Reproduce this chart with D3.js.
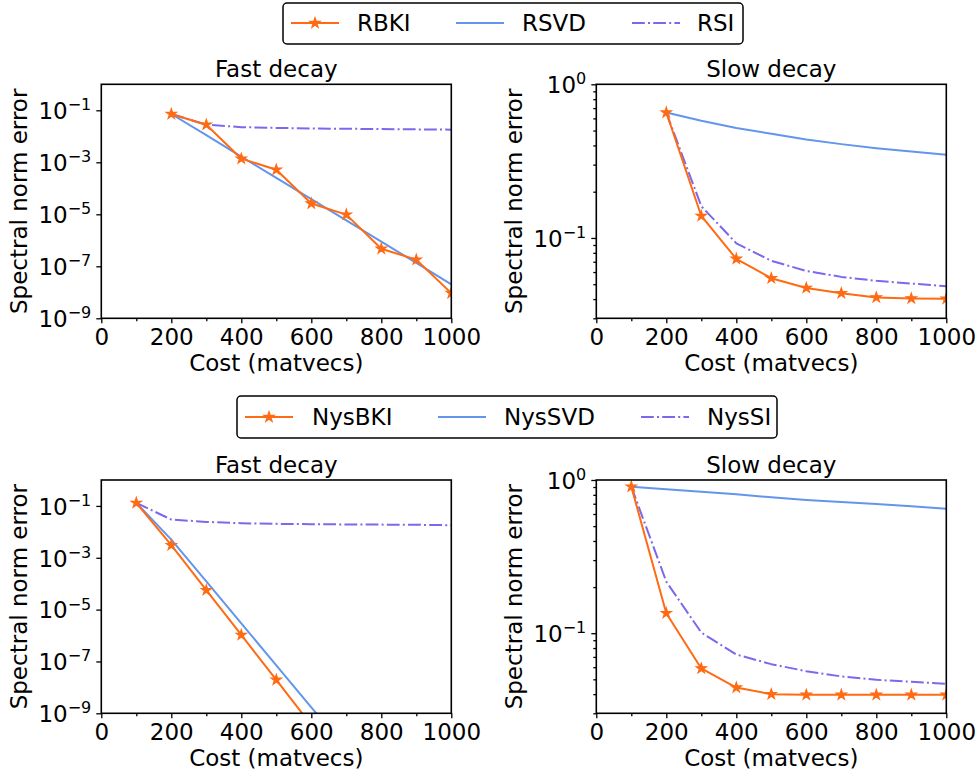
<!DOCTYPE html>
<html>
<head>
<meta charset="utf-8">
<script src="https://cdn.jsdelivr.net/npm/d3@7"></script>
<style>
  html, body { margin: 0; padding: 0; background: #fff; }
  svg { display: block; }
  text { font-family: "DejaVu Sans", sans-serif; fill: #000; }
</style>
</head>
<body>
<svg id="chart" width="977" height="776"></svg>
<script>
// ---------------- DATA ----------------
const costTop = [200, 300, 400, 500, 600, 700, 800, 900, 1000];
const rbkiFast = [0.072, 0.028, 0.00138, 0.00052, 2.6e-5, 9.7e-6, 4.7e-7, 1.8e-7, 9.3e-9];
const rsvdFast = [0.072, 0.011, 0.00166, 0.00025, 3.8e-5, 5.8e-6, 8.9e-7, 1.35e-7, 2.0e-8];
const rsiFast  = [0.072, 0.028, 0.0225, 0.021, 0.020, 0.0195, 0.019, 0.0185, 0.018];
const rbkiSlow = [0.655, 0.139, 0.0731, 0.0547, 0.0473, 0.0437, 0.0410, 0.0404, 0.0402];
const rsvdSlow = [0.655, 0.580, 0.520, 0.476, 0.437, 0.408, 0.384, 0.365, 0.348];
const rsiSlow  = [0.655, 0.161, 0.0923, 0.0710, 0.0610, 0.0558, 0.0526, 0.0505, 0.0485];

const costBottom = [100, 200, 300, 400, 500, 600, 700, 800, 900, 1000];
const nysbkiFast = [0.131, 0.00305, 5.6e-5, 1.05e-6, 1.95e-8, 3.5e-10, null, null, null, null];
const nyssvdFast = [0.131, 0.0050, 1.22e-4, 2.95e-6, 7.1e-8, 1.7e-9, 4.2e-11, null, null, null];
const nyssiFast  = [0.131, 0.0298, 0.0242, 0.0215, 0.0203, 0.0197, 0.0193, 0.0190, 0.0187, 0.018];
const nysbkiSlow = [0.905, 0.135, 0.0589, 0.0442, 0.0400, 0.0396, 0.0396, 0.0396, 0.0396, 0.0396];
const nyssvdSlow = [0.905, 0.869, 0.838, 0.806, 0.771, 0.741, 0.719, 0.697, 0.673, 0.650];
const nyssiSlow  = [0.905, 0.217, 0.101, 0.0726, 0.0628, 0.0565, 0.0522, 0.0496, 0.0482, 0.0467];

const topLegendLabels = ["RBKI", "RSVD", "RSI"];
const bottomLegendLabels = ["NysBKI", "NysSVD", "NysSI"];
const xTicks = [0, 200, 400, 600, 800, 1000];
const xMinorTicks = [100, 300, 500, 700, 900];
const fastTicks = [1e-1, 1e-3, 1e-5, 1e-7, 1e-9];
const slowTicks = [1e0, 1e-1];
const slowMinorTicks = [0.03, 0.04, 0.05, 0.06, 0.07, 0.08, 0.09, 0.2, 0.3, 0.4, 0.5, 0.6, 0.7, 0.8, 0.9];
const fastDomain = [1e-9, 1];
const slowDomain = [0.03, 1];

// ---------------- STYLE ----------------
const COLORS = ["#ff6a13", "#6495ed", "#7b68ee"];
const FONT = 23;
const svg = d3.select("#chart");
const star = d3.symbol().type(d3.symbolStar).size(32);

function expLabel(sel, v) {
  const e = Math.round(Math.log10(v));
  sel.append("tspan").text("10");
  sel.append("tspan").attr("dy", -8.8).attr("font-size", 16).text(String(e).replace("-", "\u2212"));
}

let clipId = 0;
function panel(box, cost, series, yDomain, ticks, minorTicks, title) {
  const g = svg.append("g");
  const x = d3.scaleLinear().domain([0, 1000]).range([box.x0, box.x1]);
  const y = d3.scaleLog().domain(yDomain).range([box.y1, box.y0]);

  const cid = "clip" + (clipId++);
  svg.append("clipPath").attr("id", cid).append("rect")
    .attr("x", box.x0).attr("y", box.y0).attr("width", box.x1 - box.x0).attr("height", box.y1 - box.y0);

  const plot = g.append("g").attr("clip-path", `url(#${cid})`);
  const styles = [
    { dash: null, marker: true },
    { dash: null, marker: false },
    { dash: "12.8,3.2,2,3.2", marker: false }
  ];
  [1, 2, 0].forEach(i => {
    const vals = series[i];
    const pts = cost.map((c, k) => [c, vals[k]]).filter(p => p[1] != null);
    const line = d3.line().x(p => x(p[0])).y(p => y(p[1]));
    plot.append("path").attr("d", line(pts))
      .attr("fill", "none").attr("stroke", COLORS[i]).attr("stroke-width", 2)
      .attr("stroke-linejoin", "round")
      .attr("stroke-dasharray", styles[i].dash);
    if (styles[i].marker) {
      plot.selectAll(null).data(pts).join("path")
        .attr("d", star)
        .attr("transform", p => `translate(${x(p[0])},${y(p[1])})`)
        .attr("fill", COLORS[i]).attr("stroke", COLORS[i]).attr("stroke-width", 1.2);
    }
  });

  const xAxis = d3.axisBottom(x).tickValues(xTicks).tickSize(5).tickPadding(5).tickFormat(d3.format("d"));
  const gx = g.append("g").attr("transform", `translate(0,${box.y1})`).call(xAxis);
  gx.selectAll("text").attr("font-size", FONT).attr("dy", null).attr("y", 27)
    .style("font-family", "DejaVu Sans");
  const xm = d3.axisBottom(x).tickValues(xMinorTicks).tickSize(3).tickFormat("");
  g.append("g").attr("transform", `translate(0,${box.y1})`).call(xm).select(".domain").remove();

  const yAxis = d3.axisLeft(y).tickValues(ticks).tickSize(5).tickFormat("");
  const gy = g.append("g").attr("transform", `translate(${box.x0},0)`).call(yAxis);
  gy.selectAll(".tick").each(function(d) {
    d3.select(this).append("text")
      .attr("x", -10).attr("y", 8.3).attr("text-anchor", "end")
      .attr("font-size", FONT).attr("fill", "#000")
      .call(expLabel, d);
  });
  if (minorTicks) {
    const ym = d3.axisLeft(y).tickValues(minorTicks.filter(v => v >= yDomain[0] && v <= yDomain[1])).tickSize(3).tickFormat("");
    g.append("g").attr("transform", `translate(${box.x0},0)`).call(ym).select(".domain").remove();
  }
  g.selectAll(".domain").remove();
  g.selectAll(".tick line").attr("stroke", "#000").attr("stroke-width", 1.3);

  g.append("rect").attr("x", box.x0).attr("y", box.y0)
    .attr("width", box.x1 - box.x0).attr("height", box.y1 - box.y0)
    .attr("fill", "none").attr("stroke", "#000").attr("stroke-width", 1.6);

  g.append("text").attr("x", (box.x0 + box.x1) / 2).attr("y", box.y0 - 7.5)
    .attr("text-anchor", "middle").attr("font-size", FONT).text(title);
  g.append("text").attr("x", (box.x0 + box.x1) / 2).attr("y", box.y1 + 53)
    .attr("text-anchor", "middle").attr("font-size", FONT).text("Cost (matvecs)");
  g.append("text")
    .attr("transform", `translate(${box.labelX},${(box.y0 + box.y1) / 2}) rotate(-90)`)
    .attr("text-anchor", "middle").attr("font-size", FONT).text("Spectral norm error");
}

function legend(box, labels, lineX, textX, cy) {
  const g = svg.append("g");
  g.append("rect").attr("x", box.x0).attr("y", box.y0)
    .attr("width", box.x1 - box.x0).attr("height", box.y1 - box.y0)
    .attr("rx", 4).attr("fill", "#fff").attr("stroke", "#000").attr("stroke-width", 1.5);
  const dashes = [null, null, "12.8,3.2,2,3.2"];
  labels.forEach((lab, i) => {
    g.append("line").attr("x1", lineX[i]).attr("x2", lineX[i] + 48)
      .attr("y1", cy).attr("y2", cy)
      .attr("stroke", COLORS[i]).attr("stroke-width", 2).attr("stroke-dasharray", dashes[i]);
    if (i === 0) {
      g.append("path").attr("d", star).attr("transform", `translate(${lineX[i] + 24},${cy})`)
        .attr("fill", COLORS[i]).attr("stroke", COLORS[i]).attr("stroke-width", 1.2);
    }
    g.append("text").attr("x", textX[i]).attr("y", cy + 8.3).attr("font-size", FONT).text(lab);
  });
}

const TL = { x0: 101.3, x1: 451.3, y0: 84.3, y1: 318.3, labelX: 27 };
const TR = { x0: 596.3, x1: 946.3, y0: 84.3, y1: 318.3, labelX: 522 };
const BL = { x0: 101.3, x1: 451.3, y0: 480, y1: 713.3, labelX: 27 };
const BR = { x0: 596.3, x1: 946.3, y0: 480, y1: 713.3, labelX: 522 };

panel(TL, costTop, [rbkiFast, rsvdFast, rsiFast], fastDomain, fastTicks, null, "Fast decay");
panel(TR, costTop, [rbkiSlow, rsvdSlow, rsiSlow], slowDomain, slowTicks, slowMinorTicks, "Slow decay");
panel(BL, costBottom, [nysbkiFast, nyssvdFast, nyssiFast], fastDomain, fastTicks, null, "Fast decay");
panel(BR, costBottom, [nysbkiSlow, nyssvdSlow, nyssiSlow], slowDomain, slowTicks, slowMinorTicks, "Slow decay");

legend({ x0: 283, x1: 743, y0: 3, y1: 44 }, topLegendLabels, [291, 456, 632], [357, 522, 697], 23);
legend({ x0: 237, x1: 777, y0: 396, y1: 438 }, bottomLegendLabels, [245, 438, 641], [312, 504, 707], 417);
</script>
</body>
</html>
